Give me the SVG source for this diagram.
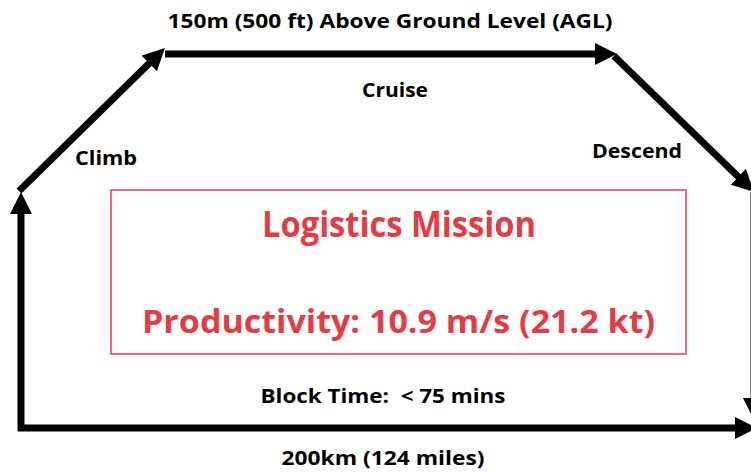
<svg xmlns="http://www.w3.org/2000/svg" width="751" height="472" viewBox="0 0 751 472">
  <style>
    .leg { fill: none; stroke: #000; stroke-width: 7; marker-end: url(#head); }
    .lbl { font-family: "Open Sans", "Liberation Sans", sans-serif; font-weight: bold; fill: #000; white-space: pre; }
    .red { font-family: "Open Sans", "Liberation Sans", sans-serif; font-weight: bold; fill: #e23c44; }
  </style>
  <defs>
    <marker id="head" markerUnits="userSpaceOnUse" markerWidth="22" markerHeight="22" refX="4" refY="11" orient="auto">
      <path d="M0,0 L22,11 L0,22 Z" fill="#000"/>
    </marker>
  </defs>
  <rect width="751" height="472" fill="#fff"/>

  <!-- flight profile legs -->
  <g id="connectors">
    <line class="leg" x1="21" y1="431" x2="21" y2="210"/>
    <line class="leg" x1="19" y1="191" x2="152.1" y2="60.6"/>
    <line class="leg" x1="165" y1="54" x2="599" y2="54"/>
    <line class="leg" x1="614" y1="56" x2="741.1" y2="179.5"/>
    <line class="leg" x1="754" y1="193" x2="754" y2="402"/>
    <line class="leg" x1="18" y1="428" x2="739" y2="428"/>
  </g>

  <!-- leg labels -->
  <g id="altitude"><text class="lbl" x="390" y="28" font-size="20" text-anchor="middle" textLength="445" lengthAdjust="spacingAndGlyphs">150m (500 ft) Above Ground Level (AGL)</text></g>
  <g id="cruise"><text class="lbl" x="395" y="97" font-size="20" text-anchor="middle" textLength="66" lengthAdjust="spacingAndGlyphs">Cruise</text></g>
  <g id="climb"><text class="lbl" x="75" y="165" font-size="20" textLength="62" lengthAdjust="spacingAndGlyphs">Climb</text></g>
  <g id="descend"><text class="lbl" x="592" y="158" font-size="20" textLength="90" lengthAdjust="spacingAndGlyphs">Descend</text></g>
  <g id="block-time"><text class="lbl" x="383" y="403" font-size="20" text-anchor="middle" textLength="245" lengthAdjust="spacingAndGlyphs">Block Time:  &lt; 75 mins</text></g>
  <g id="distance"><text class="lbl" x="383" y="465" font-size="20" text-anchor="middle" textLength="203" lengthAdjust="spacingAndGlyphs">200km (124 miles)</text></g>

  <!-- mission summary box -->
  <g id="mission">
    <rect x="111" y="190" width="575" height="164" fill="none" stroke="#e04048" stroke-width="1.5"/>
    <text class="red" x="399" y="237" font-size="35" text-anchor="middle" textLength="274" lengthAdjust="spacingAndGlyphs">Logistics Mission</text>
    <text class="red" x="398.5" y="333" font-size="32" text-anchor="middle" textLength="513" lengthAdjust="spacingAndGlyphs">Productivity: 10.9 m/s (21.2 kt)</text>
  </g>
</svg>
